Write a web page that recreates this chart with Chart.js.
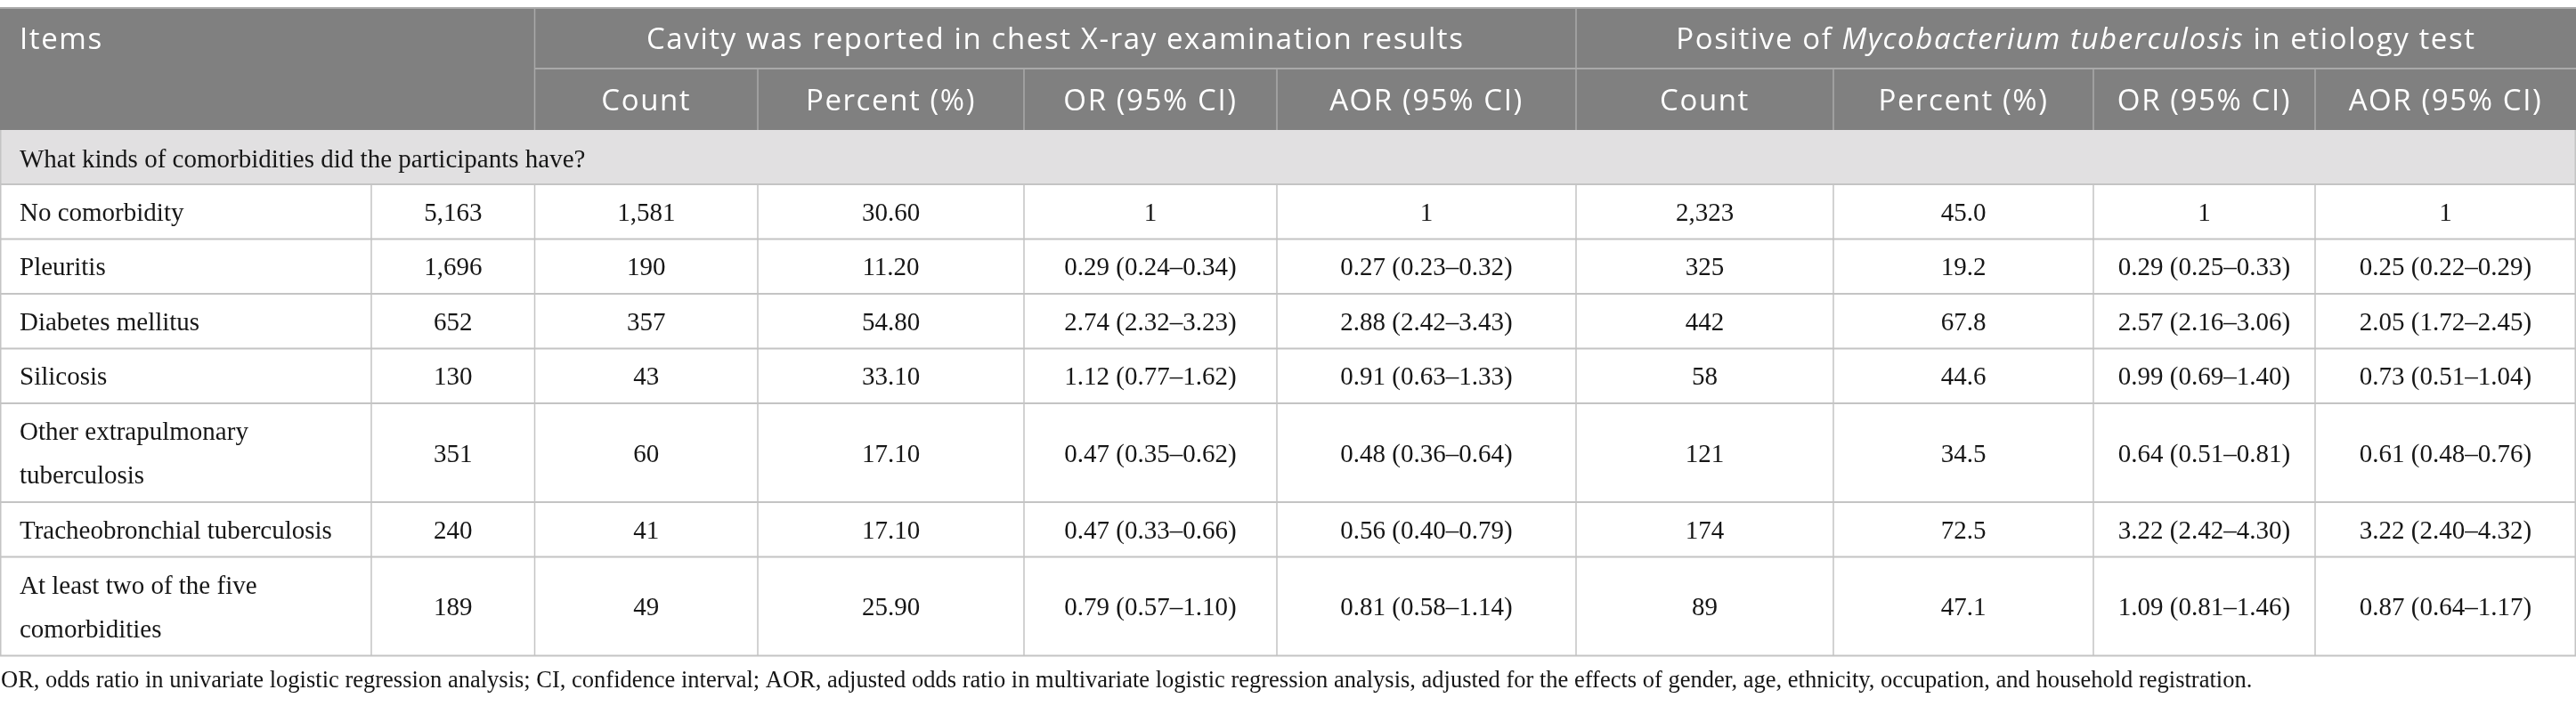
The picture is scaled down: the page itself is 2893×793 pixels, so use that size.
<!DOCTYPE html>
<html>
<head>
<meta charset="utf-8">
<script src="https://cdn.jsdelivr.net/npm/chart.js@4.4.1/dist/chart.umd.min.js"></script>
<style>
html,body{margin:0;padding:0;background:#ffffff;}
#wrap{width:2893px;height:793px;position:relative;}
canvas{display:block;}
</style>
</head>
<body>
<div id="wrap"><canvas id="c" width="2893" height="793"></canvas></div>
<script>
// ---------------- DATA ----------------
const sectionTitle = 'What kinds of comorbidities did the participants have?';
const items = ['No comorbidity', 'Pleuritis', 'Diabetes mellitus', 'Silicosis',
  'Other extrapulmonary\ntuberculosis', 'Tracheobronchial tuberculosis', 'At least two of the five\ncomorbidities'];
const totalN = ['5,163', '1,696', '652', '130', '351', '240', '189'];
const cavityCount = ['1,581', '190', '357', '43', '60', '41', '49'];
const cavityPercent = ['30.60', '11.20', '54.80', '33.10', '17.10', '17.10', '25.90'];
const cavityOR = ['1', '0.29 (0.24\u20130.34)', '2.74 (2.32\u20133.23)', '1.12 (0.77\u20131.62)', '0.47 (0.35\u20130.62)', '0.47 (0.33\u20130.66)', '0.79 (0.57\u20131.10)'];
const cavityAOR = ['1', '0.27 (0.23\u20130.32)', '2.88 (2.42\u20133.43)', '0.91 (0.63\u20131.33)', '0.48 (0.36\u20130.64)', '0.56 (0.40\u20130.79)', '0.81 (0.58\u20131.14)'];
const mtbCount = ['2,323', '325', '442', '58', '121', '174', '89'];
const mtbPercent = ['45.0', '19.2', '67.8', '44.6', '34.5', '72.5', '47.1'];
const mtbOR = ['1', '0.29 (0.25\u20130.33)', '2.57 (2.16\u20133.06)', '0.99 (0.69\u20131.40)', '0.64 (0.51\u20130.81)', '3.22 (2.42\u20134.30)', '1.09 (0.81\u20131.46)'];
const mtbAOR = ['1', '0.25 (0.22\u20130.29)', '2.05 (1.72\u20132.45)', '0.73 (0.51\u20131.04)', '0.61 (0.48\u20130.76)', '3.22 (2.40\u20134.32)', '0.87 (0.64\u20131.17)'];
const headerItems = 'Items';
const groupCavity = [{t: 'Cavity was reported in chest X-ray examination results'}];
const groupMtb = [{t: 'Positive of '}, {t: 'Mycobacterium tuberculosis', italic: true}, {t: ' in etiology test'}];
const subHeaders = ['Count', 'Percent (%)', 'OR (95% CI)', 'AOR (95% CI)'];
const footnote = 'OR, odds ratio in univariate logistic regression analysis; CI, confidence interval; AOR, adjusted odds ratio in multivariate logistic regression analysis, adjusted for the effects of gender, age, ethnicity, occupation, and household registration.';

// ---------------- LAYOUT (sizes, not data) ----------------
const colWidths = [417, 183.5, 250.5, 299, 284, 336, 289, 292, 249, 293];
const tableTop = 8;
const headRowH = 69;
const sectionRowH = 61;
const singleRowH = 61.5;
const doubleRowH = 111;
const footGap = 35;
const totalW = colWidths.reduce((a, b) => a + b, 0);
const totalH = 793;

const colEdges = [0];
colWidths.forEach(w => colEdges.push(colEdges[colEdges.length - 1] + w));
const rowEdges = [tableTop + 2 * headRowH + sectionRowH];
items.forEach(t => rowEdges.push(rowEdges[rowEdges.length - 1] + (t.includes('\n') ? doubleRowH : singleRowH)));
const colCenter = c => (colEdges[c] + colEdges[c + 1]) / 2;
const rowCenter = r => (rowEdges[r] + rowEdges[r + 1]) / 2;

const bodyColumns = [items, totalN, cavityCount, cavityPercent, cavityOR, cavityAOR, mtbCount, mtbPercent, mtbOR, mtbAOR];

const HEAD_BG = '#808080';
const HEAD_LINE = '#a9a9a9';
const SECTION_BG = '#e1e0e1';
const GRID = '#c4c4c4';
const TEXT = '#161616';
const HEAD_FONT = '"Open Sans", "Noto Sans", sans-serif';
const HEAD_SIZE = '33px ';
const HEAD_SPACING = '1.6px';
const BODY_FONT = '"Liberation Serif", "DejaVu Serif", serif';

const datasets = bodyColumns.map((col, c) => ({
  label: 'col' + c,
  data: col.map((v, r) => ({x: c === 0 ? colEdges[0] : colCenter(c), y: rowCenter(r)})),
  texts: col,
  align: c === 0 ? 'left' : 'center',
  pointRadius: 0,
  showLine: false
}));

const tablePlugin = {
  id: 'tablePlugin',
  beforeDatasetsDraw(chart) {
    const ctx = chart.ctx;
    const xs = chart.scales.x, ys = chart.scales.y;
    const X = v => xs.getPixelForValue(v);
    const Y = v => ys.getPixelForValue(v);
    const L = X(colEdges[0]), R = X(colEdges[colEdges.length - 1]);
    const hTop = Y(tableTop), hMid = Y(tableTop + headRowH), hBot = Y(tableTop + 2 * headRowH);
    const sBot = Y(rowEdges[0]);
    const bBot = Y(rowEdges[rowEdges.length - 1]);
    ctx.save();
    // header background
    ctx.fillStyle = HEAD_BG;
    ctx.fillRect(L, hTop, R - L, hBot - hTop);
    // section background
    ctx.fillStyle = SECTION_BG;
    ctx.fillRect(L, hBot, R - L, sBot - hBot);
    // header lines
    ctx.strokeStyle = HEAD_LINE;
    ctx.lineWidth = 2;
    ctx.beginPath();
    ctx.moveTo(L, hTop + 1); ctx.lineTo(R, hTop + 1);
    ctx.moveTo(X(colEdges[2]), hMid); ctx.lineTo(R, hMid);
    ctx.stroke();
    ctx.lineWidth = 1.5;
    ctx.beginPath();
    [2, 6].forEach(c => { ctx.moveTo(X(colEdges[c]), hTop); ctx.lineTo(X(colEdges[c]), hBot); });
    [3, 4, 5, 7, 8, 9].forEach(c => { ctx.moveTo(X(colEdges[c]), hMid); ctx.lineTo(X(colEdges[c]), hBot); });
    ctx.stroke();
    // section & body grid
    ctx.strokeStyle = GRID;
    ctx.lineWidth = 2;
    ctx.beginPath();
    rowEdges.forEach(y => { ctx.moveTo(L, Y(y)); ctx.lineTo(R, Y(y)); });
    ctx.stroke();
    ctx.lineWidth = 1.5;
    ctx.beginPath();
    ctx.moveTo(L + 0.75, hBot); ctx.lineTo(L + 0.75, bBot);
    ctx.moveTo(R - 0.75, hBot); ctx.lineTo(R - 0.75, bBot);
    colEdges.slice(1, -1).forEach(x => { ctx.moveTo(X(x), sBot); ctx.lineTo(X(x), bBot); });
    ctx.stroke();

    // header texts
    ctx.fillStyle = '#ffffff';
    ctx.textBaseline = 'alphabetic';
    ctx.letterSpacing = HEAD_SPACING;
    ctx.font = '400 ' + HEAD_SIZE + HEAD_FONT;
    ctx.textAlign = 'left';
    const r1 = (hTop + hMid) / 2 + 12, r2 = (hMid + hBot) / 2 + 12.5;
    ctx.fillText(headerItems, X(colEdges[0]) + 22, r1);
    const drawRich = (parts, cx, y) => {
      const widths = parts.map(p => { ctx.font = (p.italic ? 'italic ' : '') + '400 ' + HEAD_SIZE + HEAD_FONT; return ctx.measureText(p.t).width; });
      const tw = widths.reduce((a, b) => a + b, 0);
      let x = cx - tw / 2;
      ctx.textAlign = 'left';
      parts.forEach((p, i) => { ctx.font = (p.italic ? 'italic ' : '') + '400 ' + HEAD_SIZE + HEAD_FONT; ctx.fillText(p.t, x, y); x += widths[i]; });
    };
    drawRich(groupCavity, (X(colEdges[2]) + X(colEdges[6])) / 2, r1);
    drawRich(groupMtb, (X(colEdges[6]) + X(colEdges[10])) / 2, r1);
    ctx.font = '400 ' + HEAD_SIZE + HEAD_FONT;
    ctx.textAlign = 'center';
    [2, 3, 4, 5, 6, 7, 8, 9].forEach((c, i) => {
      ctx.fillText(subHeaders[i % 4], (X(colEdges[c]) + X(colEdges[c + 1])) / 2, r2);
    });
    ctx.letterSpacing = '0px';
    // section title
    ctx.fillStyle = TEXT;
    ctx.font = '29px ' + BODY_FONT;
    ctx.textAlign = 'left';
    ctx.fillText(sectionTitle, L + 22, (hBot + sBot) / 2 + 11);
    // footnote
    ctx.font = '26.5px ' + BODY_FONT;
    ctx.fillText(footnote, L + 1, Y(rowEdges[rowEdges.length - 1] + footGap));
    ctx.restore();
  },
  afterDatasetsDraw(chart) {
    const ctx = chart.ctx;
    ctx.save();
    ctx.fillStyle = TEXT;
    ctx.font = '29px ' + BODY_FONT;
    ctx.textBaseline = 'alphabetic';
    chart.data.datasets.forEach((ds, di) => {
      const meta = chart.getDatasetMeta(di);
      ctx.textAlign = ds.align;
      meta.data.forEach((pt, i) => {
        const lines = String(ds.texts[i]).split('\n');
        const lh = 49;
        const x = ds.align === 'left' ? pt.x + 22 : pt.x;
        const y0 = pt.y + 10 - (lines.length - 1) * lh / 2;
        lines.forEach((ln, k) => ctx.fillText(ln, x, y0 + k * lh));
      });
    });
    ctx.restore();
  }
};

new Chart(document.getElementById('c'), {
  type: 'scatter',
  data: {datasets},
  options: {
    responsive: false,
    animation: false,
    events: [],
    layout: {padding: 0},
    plugins: {legend: {display: false}, tooltip: {enabled: false}},
    scales: {
      x: {type: 'linear', min: 0, max: totalW, display: false},
      y: {type: 'linear', min: 0, max: totalH, reverse: true, display: false}
    }
  },
  plugins: [tablePlugin]
});
</script>
</body>
</html>
